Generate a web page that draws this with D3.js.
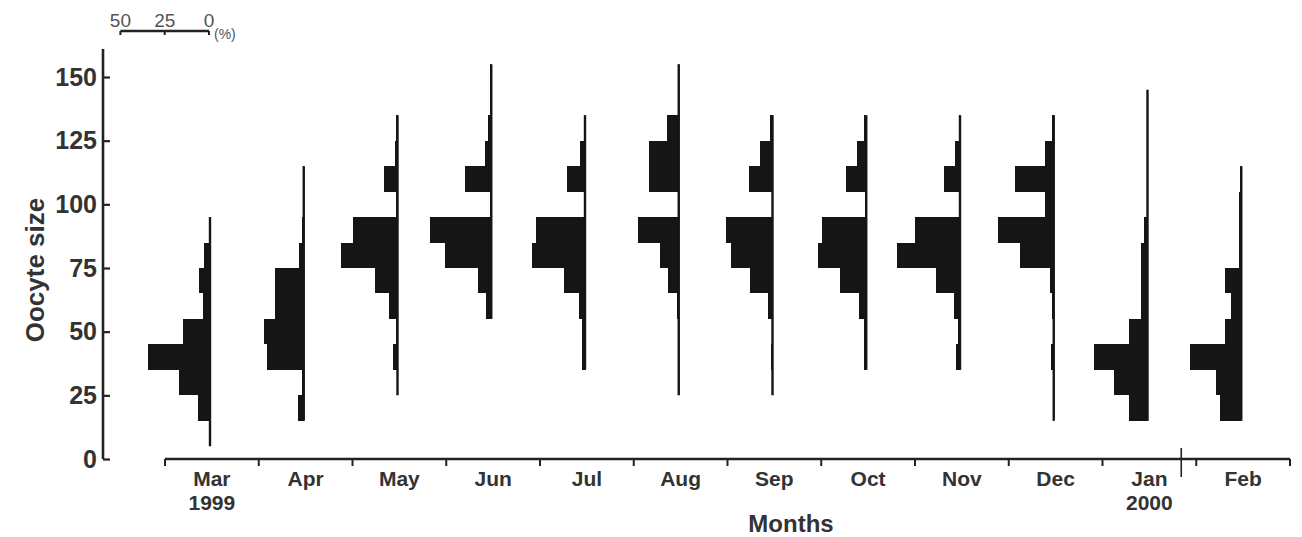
<!DOCTYPE html>
<html>
<head>
<meta charset="utf-8">
<script src="https://cdn.jsdelivr.net/npm/d3@7"></script>
<style>
  html, body { margin: 0; padding: 0; background: #fff; }
  svg { display: block; }
  text { font-family: "Liberation Sans", Arial, sans-serif; }
</style>
</head>
<body>
<script>
// ---------------- data ----------------
const months = ["Mar","Apr","May","Jun","Jul","Aug","Sep","Oct","Nov","Dec","Jan","Feb"];
const yearLabels = [{month: "Mar", year: "1999"}, {month: "Jan", year: "2000"}];
// oocyte size classes (bin centres, 10-unit classes)
const sizeClasses = [10,20,30,40,50,60,70,80,90,100,110,120,130,140,150];
const classWidth = 10;
// percentage frequency per size class (same order as sizeClasses)
const mar = [0.5, 6.6, 17.3, 34.8, 15, 4.1, 6, 3.4, 0.5, 0, 0, 0, 0, 0, 0];
const apr = [0, 3.4, 0.8, 20.7, 22.2, 16, 16, 2.8, 0.8, 0.5, 0.5, 0, 0, 0, 0];
const may = [0, 0, 0.5, 2.4, 0.8, 5, 12.6, 32, 25, 0.8, 7.5, 1.5, 1, 0, 0];
const jun = [0, 0, 0, 0, 0, 3, 7.5, 26, 34.8, 0.5, 15, 3.8, 1.9, 0.5, 0.5];
const jul = [0, 0, 0, 1.8, 1.8, 3.4, 12, 29.7, 27.7, 0.5, 10, 2.8, 0.8, 0, 0];
const aug = [0, 0, 0.5, 0.5, 0.5, 1.2, 5.8, 10.7, 23, 0.5, 17, 17, 6.6, 0.5, 0.5];
const sep = [0, 0, 0.5, 0.8, 0.5, 2.4, 12.6, 23.7, 26.5, 0.5, 13, 6.8, 1.5, 0, 0];
const oct = [0, 0, 0, 1, 1, 4, 15, 27.5, 25, 0.5, 11.7, 5, 1.5, 0, 0];
const nov = [0, 0, 0, 2.2, 1, 3.6, 13.5, 35.4, 25.4, 0.5, 8.9, 2.8, 0.8, 0, 0];
const dec = [0, 0.5, 0.5, 1.5, 0.5, 1, 2.3, 19.2, 31.4, 5, 22, 5, 1, 0, 0];
const jan = [0, 10.3, 18.8, 30, 10.7, 3.7, 3.7, 3.7, 2.2, 0.5, 0.5, 0.5, 0.5, 0.5, 0];
const feb = [0, 11.8, 14, 29, 9.4, 5.6, 9, 1.2, 1, 1, 0.5, 0, 0, 0, 0];
const frequencies = [mar, apr, may, jun, jul, aug, sep, oct, nov, dec, jan, feb];
const yTicks = [0, 25, 50, 75, 100, 125, 150];
const pctTicks = [50, 25, 0];

// ---------------- layout ----------------
const W = 1302, H = 537;
const ink = "#151515";
const svg = d3.select("body").append("svg").attr("width", W).attr("height", H);

const x = d3.scaleBand().domain(months).range([165, 1290]).paddingInner(0).paddingOuter(0);
const y = d3.scaleLinear().domain([0, 150]).range([459, 77]);
const pw = d3.scaleLinear().domain([0, 50]).range([0, 88.6]);
const base = m => x(m) + x.bandwidth() * 0.48;

// ---------------- histograms ----------------
months.forEach((m, i) => {
  const vals = frequencies[i];
  const data = sizeClasses.map((c, j) => ({c, v: vals[j]})).filter(d => d.v > 0);
  const g = svg.append("g");
  const bx = base(m);
  g.selectAll("rect").data(data).join("rect")
    .attr("x", d => bx - pw(d.v))
    .attr("y", d => y(d.c + classWidth / 2))
    .attr("width", d => pw(d.v))
    .attr("height", d => y(d.c - classWidth / 2) - y(d.c + classWidth / 2))
    .attr("fill", ink)
    .attr("shape-rendering", "crispEdges");
  const lo = d3.min(data, d => d.c) - classWidth / 2;
  const hi = d3.max(data, d => d.c) + classWidth / 2;
  g.append("line")
    .attr("x1", bx).attr("x2", bx)
    .attr("y1", y(hi)).attr("y2", y(lo))
    .attr("stroke", ink).attr("stroke-width", 2.4);
});

// ---------------- y axis ----------------
const yAxis = svg.append("g").attr("transform", "translate(103,0)")
  .call(d3.axisLeft(y).tickValues(yTicks).tickSize(-7).tickSizeOuter(0).tickPadding(6));
yAxis.select(".domain").remove();
yAxis.selectAll(".tick line").attr("stroke", "#222").attr("stroke-width", 2.2);
yAxis.selectAll(".tick text")
  .attr("font-size", 25).attr("font-weight", "bold").attr("fill", "#333")
  .attr("font-family", "'Liberation Sans', Arial, sans-serif");
yAxis.append("line").attr("x1", 0).attr("x2", 0)
  .attr("y1", y(161)).attr("y2", y(0))
  .attr("stroke", "#222").attr("stroke-width", 2.6);

svg.append("text")
  .attr("transform", `translate(44,${(y(0) + y(150)) / 2 + 2}) rotate(-90)`)
  .attr("text-anchor", "middle")
  .attr("font-size", 26).attr("font-weight", "bold").attr("fill", "#333")
  .text("Oocyte size");

// ---------------- x axis ----------------
const xr = x.range();
const xg = svg.append("g");
xg.append("line").attr("x1", xr[0]).attr("x2", xr[1]).attr("y1", y(0)).attr("y2", y(0))
  .attr("stroke", "#222").attr("stroke-width", 2.6);
const edges = months.map(m => x(m)).concat([xr[1]]);
xg.selectAll("line.tk").data(edges).join("line").attr("class", "tk")
  .attr("x1", d => d).attr("x2", d => d)
  .attr("y1", y(0)).attr("y2", y(0) + 7)
  .attr("stroke", "#222").attr("stroke-width", 2);
// year divider
const divX = x("Feb") - 15;
xg.append("line").attr("x1", divX).attr("x2", divX)
  .attr("y1", y(0) - 11).attr("y2", y(0) + 18)
  .attr("stroke", "#222").attr("stroke-width", 1.6);

xg.selectAll("text.month").data(months).join("text").attr("class", "month")
  .attr("x", d => x(d) + x.bandwidth() / 2)
  .attr("y", 486)
  .attr("text-anchor", "middle")
  .attr("font-size", 21).attr("font-weight", "bold").attr("fill", "#333")
  .text(d => d);
xg.selectAll("text.year").data(yearLabels).join("text").attr("class", "year")
  .attr("x", d => x(d.month) + x.bandwidth() / 2)
  .attr("y", 510)
  .attr("text-anchor", "middle")
  .attr("font-size", 21).attr("font-weight", "bold").attr("fill", "#333")
  .text(d => d.year);

svg.append("text")
  .attr("x", 791).attr("y", 532)
  .attr("text-anchor", "middle")
  .attr("font-size", 24).attr("font-weight", "bold").attr("fill", "#333")
  .text("Months");

// ---------------- percentage scale bar ----------------
const sOrigin = base("Mar") - 1;
const sx = v => sOrigin - pw(v);
const sb = svg.append("g");
sb.append("line").attr("x1", sx(50)).attr("x2", sx(0)).attr("y1", 31).attr("y2", 31)
  .attr("stroke", "#222").attr("stroke-width", 2.6);
sb.selectAll("line.st").data(pctTicks).join("line").attr("class", "st")
  .attr("x1", d => sx(d)).attr("x2", d => sx(d))
  .attr("y1", 31).attr("y2", 35)
  .attr("stroke", "#222").attr("stroke-width", 2);
sb.selectAll("text.sl").data(pctTicks).join("text").attr("class", "sl")
  .attr("x", d => sx(d)).attr("y", 27)
  .attr("text-anchor", "middle")
  .attr("font-size", 19).attr("fill", "#555")
  .text(d => d);
sb.append("text").attr("x", sx(0) + 5).attr("y", 39)
  .attr("font-size", 14).attr("fill", "#555")
  .text("(%)");
</script>
</body>
</html>
